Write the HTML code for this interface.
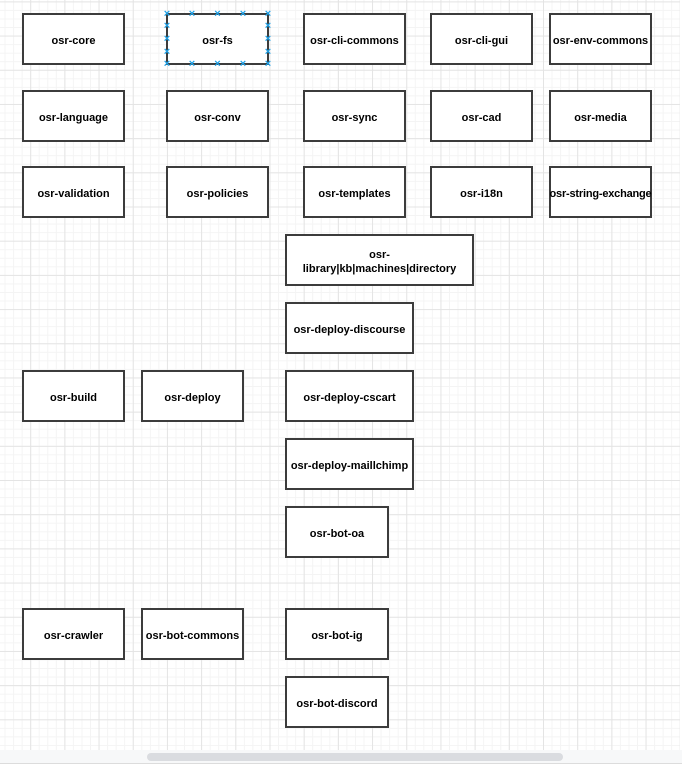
<!DOCTYPE html>
<html><head><meta charset="utf-8"><style>
html,body{margin:0;padding:0;width:682px;height:764px;overflow:hidden;background:#fff}
#c{position:absolute;left:0;top:0;width:680px;height:750px;
background-color:#fff;
background-image:
linear-gradient(to right,#e4e4e4 1px,transparent 1px),
linear-gradient(to bottom,#e4e4e4 1px,transparent 1px),
linear-gradient(to right,#f4f4f4 1px,transparent 1px),
linear-gradient(to bottom,#f4f4f4 1px,transparent 1px);
background-size:34.2px 34.2px,34.2px 34.2px,8.55px 8.55px,8.55px 8.55px;
background-position:-4px 1.4px,-4px 1.4px,-4px 1.4px,-4px 1.4px}
.b{position:absolute;box-sizing:border-box;border:2px solid #3c3c3c;background:#fff;display:flex;align-items:center;justify-content:center;text-align:center;font:bold 11px "Liberation Sans",Arial,sans-serif;color:#000;line-height:14px;padding-top:3px;white-space:nowrap}
.h{position:absolute;color:#1ea0e6;font:bold 11px "Liberation Sans",sans-serif;width:8px;height:8px;line-height:8px;text-align:center;margin:-4px 0 0 -4px}
#sb{position:absolute;left:0;top:750px;width:682px;height:14px;background:#f7f8f9;border-bottom:1px solid #dcdcdc;box-sizing:border-box}
#th{position:absolute;left:147px;top:753px;width:416px;height:8px;border-radius:4px;background:#dadce0}
</style></head><body>
<div id="c"></div>
<div class="b" style="left:22px;top:13px;width:103px;height:52px">osr-core</div>
<div class="b" style="left:166px;top:13px;width:103px;height:52px">osr-fs</div>
<div class="b" style="left:303px;top:13px;width:103px;height:52px">osr-cli-commons</div>
<div class="b" style="left:430px;top:13px;width:103px;height:52px">osr-cli-gui</div>
<div class="b" style="left:549px;top:13px;width:103px;height:52px">osr-env-commons</div>

<div class="b" style="left:22px;top:90px;width:103px;height:52px">osr-language</div>
<div class="b" style="left:166px;top:90px;width:103px;height:52px">osr-conv</div>
<div class="b" style="left:303px;top:90px;width:103px;height:52px">osr-sync</div>
<div class="b" style="left:430px;top:90px;width:103px;height:52px">osr-cad</div>
<div class="b" style="left:549px;top:90px;width:103px;height:52px">osr-media</div>

<div class="b" style="left:22px;top:166px;width:103px;height:52px">osr-validation</div>
<div class="b" style="left:166px;top:166px;width:103px;height:52px">osr-policies</div>
<div class="b" style="left:303px;top:166px;width:103px;height:52px">osr-templates</div>
<div class="b" style="left:430px;top:166px;width:103px;height:52px">osr-i18n</div>
<div class="b" style="left:549px;top:166px;width:103px;height:52px;letter-spacing:-0.2px">osr-string-exchange</div>

<div class="b" style="left:285px;top:234px;width:189px;height:52px">osr-<br>library|kb|machines|directory</div>
<div class="b" style="left:285px;top:302px;width:129px;height:52px">osr-deploy-discourse</div>
<div class="b" style="left:285px;top:370px;width:129px;height:52px">osr-deploy-cscart</div>
<div class="b" style="left:285px;top:438px;width:129px;height:52px">osr-deploy-maillchimp</div>
<div class="b" style="left:285px;top:506px;width:104px;height:52px">osr-bot-oa</div>
<div class="b" style="left:22px;top:370px;width:103px;height:52px">osr-build</div>
<div class="b" style="left:141px;top:370px;width:103px;height:52px">osr-deploy</div>
<div class="b" style="left:22px;top:608px;width:103px;height:52px">osr-crawler</div>
<div class="b" style="left:141px;top:608px;width:103px;height:52px">osr-bot-commons</div>
<div class="b" style="left:285px;top:608px;width:104px;height:52px">osr-bot-ig</div>
<div class="b" style="left:285px;top:676px;width:104px;height:52px">osr-bot-discord</div>

<div class="h" style="left:167px;top:14px">×</div><div class="h" style="left:192px;top:14px">×</div><div class="h" style="left:217.5px;top:14px">×</div><div class="h" style="left:243px;top:14px">×</div><div class="h" style="left:268px;top:14px">×</div>
<div class="h" style="left:167px;top:64px">×</div><div class="h" style="left:192px;top:64px">×</div><div class="h" style="left:217.5px;top:64px">×</div><div class="h" style="left:243px;top:64px">×</div><div class="h" style="left:268px;top:64px">×</div>
<div class="h" style="left:167px;top:26px">×</div><div class="h" style="left:167px;top:39px">×</div><div class="h" style="left:167px;top:52px">×</div>
<div class="h" style="left:268px;top:26px">×</div><div class="h" style="left:268px;top:39px">×</div><div class="h" style="left:268px;top:52px">×</div>
<div id="sb"></div><div id="th"></div>
</body></html>
